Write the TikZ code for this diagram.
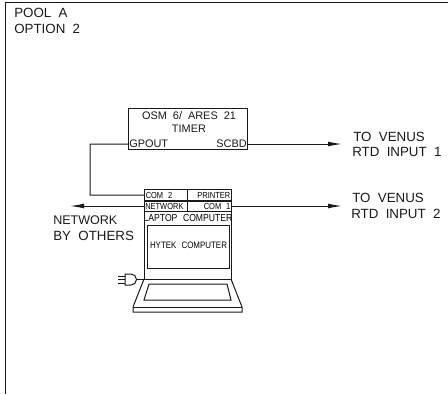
\documentclass[tikz,border=0pt]{standalone}
\usepackage{fontspec}
\setmainfont{Liberation Sans}
\newfontfamily\narrowfont[FakeStretch=0.85]{Liberation Sans}
\usepackage{xcolor}
\usetikzlibrary{arrows.meta,positioning}
\definecolor{cadline}{gray}{0.1}
\tikzset{
  biglabel/.style={font=\fontsize{10}{12}\selectfont,inner sep=0pt,anchor=west,text=cadline},
  midlabel/.style={font=\fontsize{8.2}{10}\selectfont,inner sep=0pt,text=cadline},
  portlabel/.style={font=\narrowfont\fontsize{6.6}{8}\selectfont,inner sep=0pt,text=black},
  smalllabel/.style={font=\narrowfont\fontsize{7}{8}\selectfont,inner sep=0pt,text=black},
  cadbox/.style={draw=cadline,line width=0.75pt,inner sep=0pt},
  wire/.style={draw=cadline,line width=0.75pt},
  feed/.style={wire,-{Latex[length=10.5pt,width=3.6pt]}},
}
\newcommand{\gapp}{\hspace{0.55em}}
\begin{document}
\begin{tikzpicture}[x=0.75pt,y=-0.75pt]
  \useasboundingbox (0,0) rectangle (448,394);
  % sheet border
  \coordinate (corner) at (5.5,2.5);
  \coordinate (topend) at (448,2.5);
  \coordinate (botend) at (5.5,394);
  \draw[line width=0.85pt,draw=cadline] (topend) -- (corner) -- (botend);
  \node[biglabel] (pool) at (14,13) {POOL\gapp A};
  \node[biglabel] (option) at (14,29) {OPTION\gapp 2};
  % timer
  \node[cadbox,minimum width=89.5pt,minimum height=30.75pt,anchor=north west] (timer) at (128,108) {};
  \node[midlabel] (timername) at (189,116) {OSM\gapp 6/\gapp ARES\gapp 21};
  \node[midlabel] (timersub) at (189,129) {TIMER};
  \node[midlabel,anchor=west] (gpout) at (129,144) {GPOUT};
  \node[midlabel,anchor=east] (scbd) at (247,144) {SCBD};
  % ports
  \node[cadbox,minimum width=32.25pt,minimum height=8.6pt,anchor=north west] (com2box) at (144,189) {};
  \node[cadbox,minimum width=33pt,minimum height=8.6pt,anchor=north west] (printerbox) at (187,189) {};
  \node[cadbox,minimum width=32.25pt,minimum height=7.5pt,anchor=north west] (networkbox) at (144,200.5) {};
  \node[cadbox,minimum width=33pt,minimum height=7.5pt,anchor=north west] (com1box) at (187,200.5) {};
  \node[portlabel,anchor=west] at (145.5,195) {COM\gapp 2};
  \node[portlabel,anchor=east] at (230.5,195) {PRINTER};
  \node[portlabel,anchor=west] at (145,206) {NETWORK};
  \node[portlabel,anchor=east] at (230.5,206) {COM\gapp 1};
  \node[smalllabel,font=\narrowfont\fontsize{7.6}{8}\selectfont] at (188,218) {LAPTOP\gapp COMPUTER};
  % laptop
  \node[cadbox,minimum width=61.5pt,minimum height=32.25pt,anchor=north west] (screen) at (147,225) {};
  \node[smalllabel] at (188.5,245) {HYTEK\gapp COMPUTER};
  \draw[wire] (144,189) -- (144,279) -- (231,279) -- (231,189);
  \draw[wire] (144,279) -- (133,307) -- (133,312) -- (242,312) -- (242,307) -- (231,279);
  \draw[wire] (133,307) -- (242,307);
  \draw[wire] (149,284) -- (227,284) -- (231,300) -- (144,300) -- cycle;
  % plug
  \coordinate (plugin) at (144,279.5);
  \coordinate (plugout) at (137,279.5);
  \draw[wire] (plugin) -- (plugout);
  \draw[wire] (125,274) -- (131,274) arc (-90:90:5.5) -- (125,285) -- cycle;
  \foreach \y in {276,279.5,283}
    \draw[wire] (118,\y) -- (125,\y);
  % connectors
  \coordinate (venus1) at (342,144);
  \coordinate (venus2) at (342,206);
  \coordinate (others) at (70,206);
  \draw[wire] (timer.west |- gpout) -- (90,144) -- (90,195) -- (com2box.west);
  \draw[feed] (timer.east |- scbd) -- (venus1);
  \draw[feed] (com1box.east) -- (venus2);
  \draw[feed] (networkbox.west) -- (others);
  % right and left texts
  \node[biglabel] (to1) at (353,137) {TO\gapp VENUS};
  \node[biglabel] (rtd1) at (352,152) {RTD\gapp INPUT\gapp 1};
  \node[biglabel] (to2) at (352,198) {TO\gapp VENUS};
  \node[biglabel] (rtd2) at (351,214) {RTD\gapp INPUT\gapp 2};
  \node[biglabel,font=\fontsize{9.4}{12}\selectfont] (network) at (53,220) {NETWORK};
  \node[biglabel] (by) at (53,236) {BY\gapp OTHERS};
\end{tikzpicture}
\end{document}
